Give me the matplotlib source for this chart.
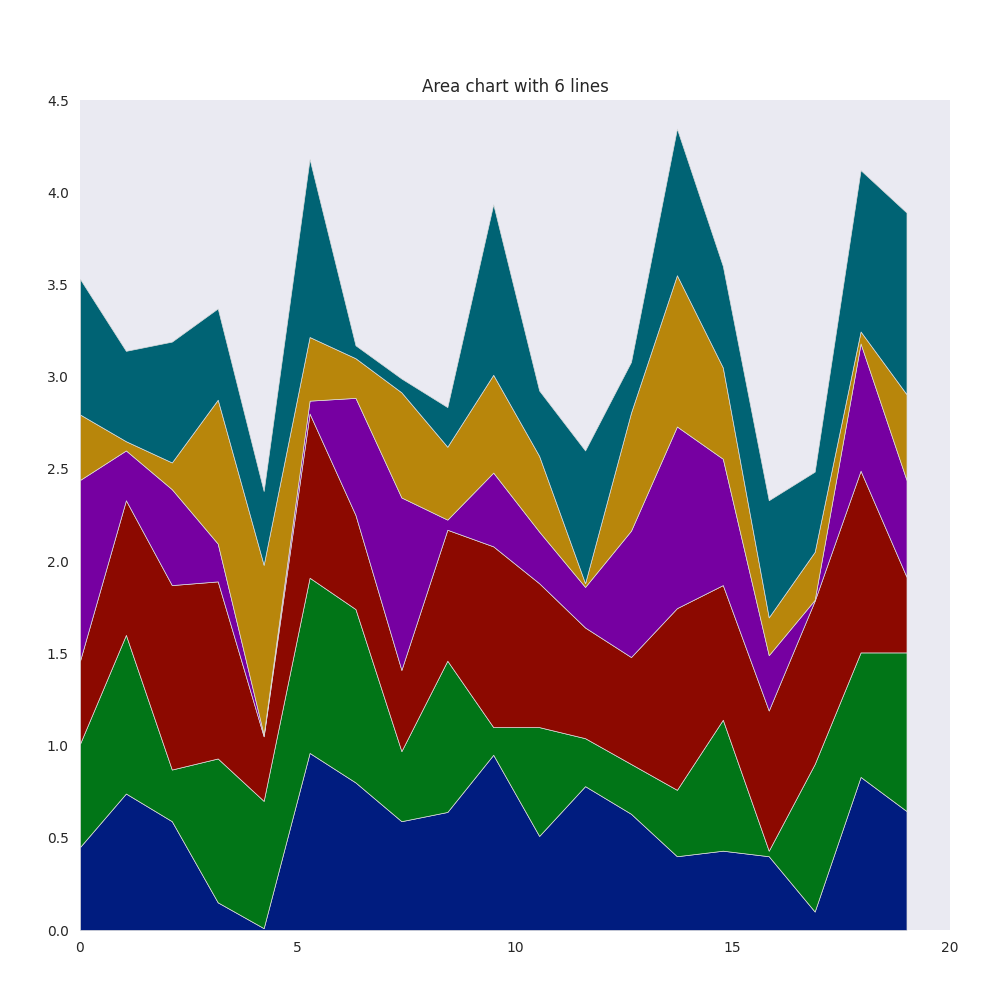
import matplotlib
matplotlib.use("Agg")
import matplotlib.pyplot as plt
import numpy as np

# x positions of the 19 samples
x = np.linspace(0, 19, 19)

# values of each stacked layer
line_1 = [0.45, 0.74, 0.59, 0.15, 0.01, 0.96, 0.80, 0.59, 0.64, 0.95,
          0.51, 0.78, 0.63, 0.40, 0.43, 0.40, 0.10, 0.83, 0.645]
line_2 = [0.56, 0.86, 0.28, 0.78, 0.69, 0.95, 0.94, 0.38, 0.82, 0.15,
          0.59, 0.26, 0.27, 0.36, 0.71, 0.03, 0.80, 0.675, 0.86]
line_3 = [0.45, 0.73, 1.00, 0.96, 0.35, 0.89, 0.51, 0.44, 0.71, 0.98,
          0.78, 0.60, 0.58, 0.985, 0.73, 0.76, 0.885, 0.985, 0.41]
line_4 = [0.98, 0.27, 0.52, 0.205, 0.01, 0.07, 0.635, 0.935, 0.055, 0.40,
          0.28, 0.22, 0.685, 0.985, 0.685, 0.30, 0.005, 0.69, 0.525]
line_5 = [0.355, 0.05, 0.145, 0.78, 0.92, 0.345, 0.215, 0.57, 0.395, 0.53,
          0.41, 0.02, 0.64, 0.82, 0.495, 0.205, 0.26, 0.065, 0.465]
line_6 = [0.735, 0.49, 0.655, 0.495, 0.40, 0.965, 0.07, 0.075, 0.215, 0.925,
          0.355, 0.72, 0.275, 0.795, 0.55, 0.635, 0.435, 0.875, 0.985]

colors = ["#001C7F", "#017517", "#8C0900", "#7600A1", "#B8860B", "#006374"]

plt.style.use("seaborn-v0_8-dark")
plt.rcParams["font.family"] = ["DejaVu Sans"]
fig = plt.figure(figsize=(10, 10), dpi=100)
ax = fig.add_axes([0.08, 0.07, 0.87, 0.83])

ax.stackplot(x, line_1, line_2, line_3, line_4, line_5, line_6,
             colors=colors, edgecolor="#dddddd", linewidth=0.5)

ax.set_xlim(0, 20)
ax.set_ylim(0, 4.5)
ax.set_xticks([0, 5, 10, 15, 20])
ax.set_yticks(np.arange(0, 4.51, 0.5))
ax.tick_params(labelsize=10, pad=8)
ax.set_title("Area chart with 6 lines", fontsize=12)

fig.savefig("out.png", dpi=100)
